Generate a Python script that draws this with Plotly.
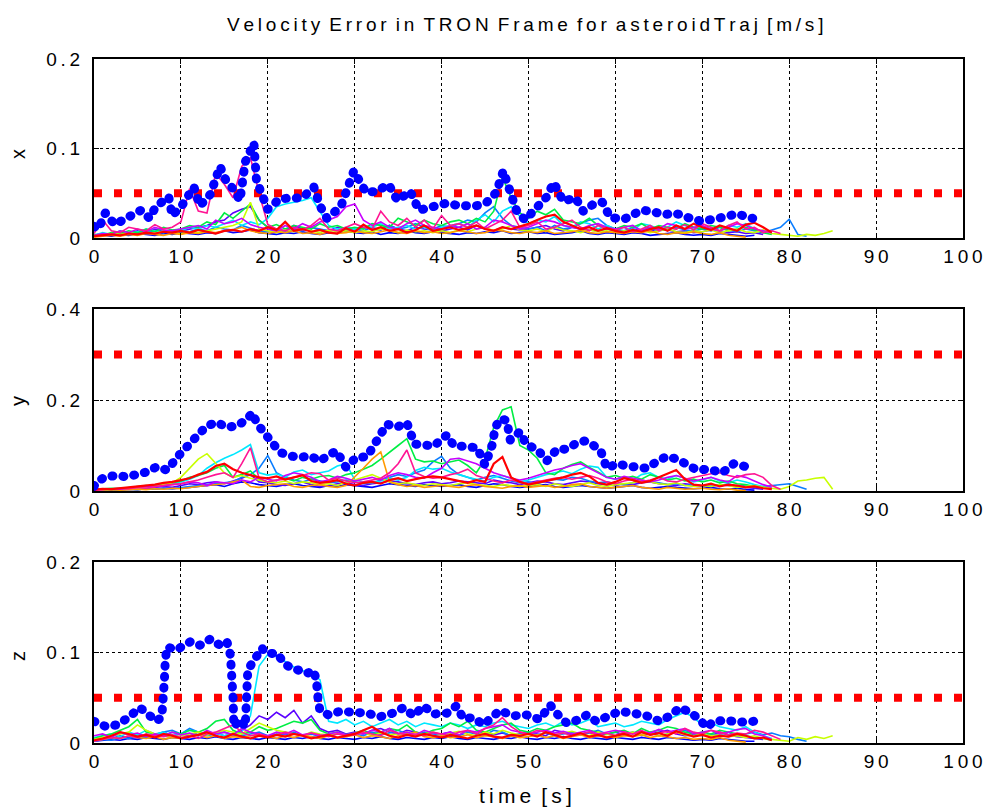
import plotly.graph_objects as go

W, H = 983, 809
FONT = "Liberation Sans, Arial, sans-serif"
THIN = "\u2009"

# ---------------- data (values in mm/s, converted to m/s) ----------------
TITLE = "Velocity Error in TRON Frame for asteroidTraj [m/s]"
XLABEL = "time [s]"
AX_NAMES = ["x", "y", "z"]
X_TICKS = [0, 10, 20, 30, 40, 50, 60, 70, 80, 90, 100]
Y_TICKS = [[0, 0.1, 0.2], [0, 0.2, 0.4], [0, 0.1, 0.2]]
Y_RANGES = [[0, 0.2], [0, 0.4], [0, 0.2]]
THRESH = [0.05, 0.3, 0.05]
SAMPLE_T = list(range(0, 90))

# max-error envelope (thick blue dotted)
bx_t = [0,0.5,1.3,2.4,3.7,5.4,6.4,7.1,8.6,9.0,10.1,11.5,12.2,13.4,14.5,15.2,16,16.8,17.4,18.4,
        18.7,19.5,20,21.4,23,24,25.3,26,26.8,28.4,29.9,30.7,31.3,32.5,33.9,34.9,36.4,37.4,39.4,40.6,
        42,44,45.2,46.3,47.1,47.9,48.6,49.6,51,52.1,52.9,54,55.4,56.3,57.5,58.5,59.4,61,63,64.1,
        65.6,66.8,68.3,69.8,71.4,72.9,74,75,75.8]
bx_v = [13,10,28,15,22,31,22,35,46,25,36,57,36,49,80,64,55,42,85,106,
        64,44,32,44,44,45,57,36,22,35,75,63,51,52,60,42,52,31,35,39,
        36,36,40,51,75,55,31,20,34,46,62,41,45,30,38,40,23,21,31,30,
        26,28,23,19,21,25,27,24,22]

by_t = [0,0.3,1.3,2.6,3.8,4.9,6.1,7.2,8.4,9.7,11,12.2,13,14.1,15.3,16.4,17.6,18.2,18.8,19.5,
        20.4,21.4,22.6,23.7,24.9,26,27.2,27.9,29,30.2,31.4,32.5,33.7,34.8,36,36.9,37.5,39.1,40.6,41.4,
        42.5,44.1,45,45.8,46.2,46.8,47.5,47.9,49,49.8,51,52.1,53.3,54.4,55.6,56.5,57.5,58.3,59,60.2,
        61.3,62.5,63.6,64.8,65.9,67.1,68.2,69.4,70.7,72.3,73.6,74.6,75.8]
by_v = [10,20,31,34,31,34,42,53,46,77,106,128,143,151,140,143,157,172,147,132,
        110,85,77,74,77,66,81,88,52,74,75,110,147,140,150,103,101,99,123,100,
        98,95,57,100,141,159,155,112,130,101,92,66,92,92,106,110,100,89,50,60,
        55,52,50,65,76,70,57,46,48,40,60,55,50]

bz_t = [0,1.4,2.6,3.8,5.3,6.4,7.2,7.8,8.0,8.1,8.2,8.4,9.5,11.1,12.2,13.4,14.5,15.3,15.7,15.9,
        16.0,16.1,16.8,17.4,17.5,17.6,17.7,18.4,19.3,19.9,21.1,21.8,22.6,23.7,24.5,25.3,25.6,25.8,26,27,
        28.3,29.8,31.4,32.9,34.4,35.6,36.8,37.9,39.1,40.6,41.7,42.5,43.7,44.8,45.6,46.7,48.2,49.8,51.3,52.5,
        53.2,54.4,55.9,56.7,57.8,59,60.5,62,63.6,65.1,66.3,67.4,68.6,69.7,70.5,71.3,72.8,74.3,75.5,76]
bz_v = [24,18,20,27,39,31,24,29,47,69,91,106,103,112,108,115,108,112,97,75,
        50,18,26,18,37,59,81,91,105,99,99,89,83,80,77,80,68,47,36,31,
        35,34,33,29,33,39,30,41,32,33,41,27,28,20,28,36,30,31,26,42,
        33,22,26,31,24,28,35,33,30,24,30,39,34,26,17,24,25,23,23,24]

# individual runs, sampled every 1 s from t = 0
x_blue = [2,3,2,4,3,5,4,3,5,4, 6,5,4,6,5,8,6,7,9,6, 5,4,6,5,7,5,4,6,5,8, 6,5,7,4,6,5,8,6,5,7,
          6,5,4,6,5,7,6,8,5,6, 7,5,6,4,5,6,8,5,4,6, 5,4,6,5,3,4,5,6,4,3, 4,3,5,4,3,2,3]
x_violet = [2,4,3,6,5,8,6,10,8,7, 8,10,12,14,18,20,28,32,35,20, 12,10,8,14,10,12,9,8,12,10,
            8,12,10,9,14,10,8,12,10,9, 8,10,12,9,14,10,8,12,10,9, 10,12,14,10,8,12,10,9,8,10,
            8,7,10,9,8,10,9,7,8,6, 7,9,8,6,7,5,6,4]
x_dodger = [3,5,4,6,5,7,6,8,7,6, 8,7,10,8,12,10,9,14,11,8, 7,9,6,10,8,12,10,8,9,11,
            10,8,12,9,14,10,12,16,12,10, 14,12,16,20,18,28,35,22,14,12, 10,12,8,14,10,12,16,20,22,14,
            10,8,12,9,11,8,10,12,9,8, 10,8,12,9,7,10,8,6,9,12, 21,4,2]
x_cyan = [3,6,4,8,5,7,10,8,6,9, 8,12,10,14,12,16,20,14,18,15, 22,35,38,40,42,45,30,14,10,12,
          10,14,12,16,10,12,14,10,12,8, 12,14,16,12,20,26,18,30,35,24, 16,20,18,24,14,12,18,16,10,14,
          10,12,8,16,14,10,12,18,14,10, 12,10,8,14,12,16,10,7,5]
x_green = [4,3,6,5,8,6,10,7,12,9, 10,14,12,18,15,28,22,30,38,20, 12,15,10,14,12,10,16,12,14,10,
           12,10,16,14,12,22,18,14,20,16, 14,18,20,16,22,18,30,68,45,28, 22,30,26,32,20,18,16,22,14,12,
           10,14,12,16,10,14,12,10,16,12, 10,14,12,8,10,12,9,6,4]
x_ygreen = [2,3,5,4,6,4,7,5,8,6, 5,7,6,8,10,12,14,18,40,10, 8,6,9,7,10,8,6,9,7,8,
            6,8,7,10,8,6,9,7,8,6, 8,6,9,7,10,12,8,10,14,9, 8,10,7,12,9,8,6,9,7,8,
            6,8,7,9,6,8,10,7,6,8, 7,9,6,8,10,7,6,9,5,4, 3,2,4,3,5,8]
x_orange = [1,2,3,2,4,3,5,4,3,5, 4,6,5,7,6,8,9,12,8,6, 5,7,6,8,5,6,4,7,5,6,
            8,6,5,7,9,6,5,8,6,7, 5,6,8,7,5,6,9,8,6,5, 7,6,8,5,6,7,9,6,5,7,
            6,5,7,6,8,5,4,6,5,7, 5,4,6,3,2,1]
x_magenta = [3,5,4,8,6,10,7,12,9,8, 10,12,14,10,20,16,18,22,15,12, 10,8,14,10,16,12,18,20,24,35,
             38,20,14,18,12,10,16,20,14,12, 10,14,12,16,10,12,20,18,14,10, 12,16,20,18,14,12,10,14,16,12,
             10,12,14,8,12,10,16,14,10,12, 14,10,8,12,16,14,10,8,6]
x_pink = [5,20,8,6,12,10,8,15,10,12, 18,55,30,28,72,60,45,80,90,50, 15,10,8,12,9,14,22,10,8,12,
          16,12,10,30,18,14,22,12,20,10, 25,14,16,12,18,10,15,20,30,12, 14,18,10,12,16,20,12,8,14,10,
          9,12,7,10,14,8,12,10,15,9, 16,12,8,14,18,10,12,6,8,5]
x_red = [2,3,4,3,5,4,6,5,7,6, 8,6,9,7,5,8,9,7,10,8, 12,9,18,8,10,7,9,6,5,11,
         7,15,9,12,8,10,6,9,14,8, 10,12,9,11,14,10,8,12,10,13, 16,20,24,26,18,14,10,12,8,11,
         8,6,9,7,10,12,8,14,10,16, 12,9,14,11,8,15,17,12,6]

y_blue = [1,2,2,3,4,3,5,4,6,5, 6,8,10,12,14,10,16,20,18,14, 12,10,14,16,12,10,8,12,10,14,
          12,10,8,12,16,14,12,10,14,12, 10,12,14,10,8,12,16,14,10,8, 10,12,14,10,8,10,12,10,8,6,
          8,10,12,8,6,8,10,8,6,5, 6,8,5,4,6,3,2]
y_violet = [2,3,4,3,5,4,6,8,10,8, 12,16,14,18,20,16,22,28,36,20, 18,14,12,16,20,14,10,12,16,18,
            14,12,16,18,22,20,16,14,18,20, 16,18,22,20,18,16,24,20,18,14, 18,22,20,16,14,18,22,20,16,14,
            12,16,14,18,20,16,14,12,16,14, 12,10,14,12,10,8,6,4]
y_dodger = [1,2,3,2,4,3,5,4,6,5, 8,10,12,14,16,18,20,30,36,50, 78,40,30,24,20,26,22,18,20,24,
            20,16,18,24,30,36,32,40,46,64, 76,50,36,30,24,30,34,28,22,18, 20,16,22,26,24,30,28,22,18,20,
            16,14,18,24,20,18,14,16,12,14, 10,14,12,16,10,12,8,10,12,14, 16,10,4]
y_cyan = [2,3,4,5,6,8,10,12,14,16, 20,26,34,50,62,72,80,90,102,40, 35,38,30,42,46,36,40,44,55,60,
          25,20,18,22,28,24,30,45,52,48, 50,42,36,30,26,22,30,34,28,20, 24,30,36,40,44,38,48,55,52,30,
          26,30,24,36,40,30,26,34,28,20, 24,30,22,18,24,20,14,10,6]
y_green = [3,4,6,5,8,10,12,10,14,18, 22,30,34,40,50,56,30,36,44,26, 20,24,28,22,30,26,32,34,28,36,
           40,48,56,70,84,100,115,70,64,66, 60,64,68,56,40,70,140,178,185,100, 90,72,40,36,50,58,64,52,42,30,
           34,28,32,26,36,30,24,28,22,26, 20,24,18,22,16,14,10,8,5]
y_ygreen = [2,3,4,5,4,6,8,10,14,18, 30,50,70,82,60,40,30,34,28,24, 20,18,22,16,20,18,14,16,12,20,
            24,30,36,28,20,16,18,14,12,16, 14,12,16,18,14,12,10,14,12,10, 12,14,10,16,12,10,14,18,12,10,
            14,16,18,24,20,16,14,18,12,10, 12,10,14,12,8,10,12,8,6,4, 10,22,24,28,30,4]
y_orange = [1,2,3,2,3,4,3,5,4,6, 5,8,10,12,14,16,20,24,10,8, 12,14,16,10,8,12,14,10,8,12,
            30,50,70,86,20,14,10,12,8,10, 12,10,8,12,14,10,8,6,10,12, 8,10,12,8,10,14,16,10,8,6,
            8,10,12,8,6,4,8,6,4,5, 6,4,3,5,2,1]
y_magenta = [2,3,5,4,6,8,10,9,12,14, 16,20,18,12,20,18,16,24,20,30, 26,22,34,40,36,30,20,24,32,28,
             22,26,30,24,34,40,36,30,28,40, 50,70,72,66,60,50,40,34,28,24, 28,34,40,46,50,56,60,50,40,30,
             26,32,28,24,20,24,30,34,28,22, 26,30,24,20,34,30,22,14,8]
y_pink = [2,3,4,6,5,8,6,10,12,14, 16,20,24,30,36,40,30,60,95,28, 20,24,26,30,34,40,38,24,28,22,
          18,20,24,28,40,60,90,40,32,28, 30,36,40,48,34,28,22,18,24,20, 16,20,24,28,30,26,30,34,28,20,
          16,22,26,20,24,30,22,20,26,30, 34,38,40,34,30,36,38,30,12,4]
y_red = [3,5,4,6,8,10,12,14,18,20, 24,28,36,42,55,60,48,40,35,30, 28,32,25,30,35,22,18,20,24,16,
         12,18,20,16,24,28,22,26,30,32, 30,26,22,18,24,20,60,75,30,20, 14,18,22,26,30,36,40,32,18,14,
         20,28,24,18,22,30,38,46,26,14, 12,16,10,14,12,8,10,6,4]

z_blue = [2,3,4,3,5,4,6,5,4,6, 5,4,6,5,7,5,4,6,5,4, 6,5,4,6,5,7,5,4,6,5,
          4,6,5,7,5,4,6,5,4,6, 5,7,5,4,6,5,4,6,5,7, 5,4,6,5,7,5,4,6,5,4,
          6,5,4,6,5,4,6,5,4,3, 4,3,5,4,3,2,2]
z_violet = [4,6,5,8,6,10,7,9,12,8, 10,8,12,9,11,8,10,14,20,30, 26,34,28,36,22,30,16,12,14,10,
            12,10,14,16,12,10,14,12,10,8, 10,12,8,14,10,12,9,11,8,10, 12,10,8,14,12,9,10,12,8,10,
            12,9,11,8,10,12,14,10,8,9, 10,8,12,9,7,6,5,4]
z_dodger = [2,4,3,6,5,8,6,9,12,14, 10,16,12,8,10,12,9,8,10,12, 8,10,9,12,8,10,7,9,11,8,
            10,8,12,9,11,14,10,8,12,10, 9,11,8,12,10,9,14,12,8,10, 12,9,11,8,10,12,9,11,14,10,
            8,10,12,9,11,8,10,12,14,10, 8,10,9,12,8,10,12,9,11,8, 7,4,2]
z_cyan = [6,8,10,7,12,9,14,10,12,8, 10,14,12,9,11,8,10,12,30,85, 98,96,90,84,80,76,70,24,22,26,
          20,24,18,22,26,20,24,18,22,20, 18,22,20,16,20,18,22,24,20,18, 16,20,22,18,24,20,22,26,18,20,
          22,18,20,24,22,20,26,30,34,28, 20,22,18,16,14,18,12,8,5]
z_green = [5,8,10,14,18,26,12,10,8,12, 10,14,12,16,24,26,14,10,12,18, 14,16,20,24,22,26,14,10,12,9,
           11,14,10,12,16,14,20,12,10,14, 16,22,18,24,14,12,16,20,22,14, 12,16,14,18,20,22,16,14,12,10,
           12,14,10,16,12,14,18,16,12,10, 12,10,14,12,10,8,6,5,3]
z_ygreen = [4,6,8,10,12,20,14,10,8,6, 8,10,12,9,11,14,12,10,16,22, 18,14,12,10,8,12,10,9,11,8,
            10,12,8,11,9,10,12,8,10,12, 9,11,13,10,8,12,10,14,11,9, 10,8,12,9,11,13,10,8,12,10,
            8,10,12,9,11,8,10,12,9,8, 10,8,9,7,8,6,8,5,4,3, 2,6,4,7,5,8]
z_orange = [3,4,6,5,8,6,5,7,4,6, 5,7,9,6,8,5,7,6,8,9, 7,5,8,6,9,7,5,8,6,7,
            9,6,8,7,5,8,10,12,7,6, 8,6,7,9,6,8,7,5,8,6, 7,9,6,8,5,7,9,6,8,7,
            6,8,7,9,6,8,7,5,6,4, 5,4,6,3,2,1]
z_magenta = [8,10,6,12,9,11,7,10,8,12, 9,11,8,14,10,12,9,16,12,10, 8,12,10,14,9,11,8,10,12,9,
             11,10,14,12,16,10,12,9,14,11, 10,12,9,14,12,16,18,20,14,12, 10,12,14,11,13,10,12,14,10,12,
             14,12,10,13,11,15,12,14,16,10, 12,14,10,12,15,16,10,8,4]
z_pink = [2,4,6,5,8,6,10,8,7,9, 6,8,5,10,12,16,20,12,8,10, 7,9,12,10,8,11,9,7,10,8,
          9,12,10,8,14,11,9,10,8,12, 10,8,12,14,10,16,20,28,18,12, 10,14,12,9,11,8,10,12,9,11,
          8,12,10,14,9,11,13,10,16,12, 10,14,12,9,11,10,14,12,8,4]
z_red = [3,5,8,12,10,7,9,6,10,8, 5,7,9,12,8,6,10,7,5,8, 6,9,7,10,8,5,7,9,6,8,
         10,14,18,12,8,6,9,7,10,8, 6,9,7,5,8,10,7,6,9,8, 10,7,12,9,6,8,11,7,9,6,
         8,10,7,12,9,11,8,13,10,7, 9,6,8,7,10,8,5,6,3]

RUN_COLORS = {
    "blue": "#0000ff", "violet": "#5a00ff", "dodger": "#0a7dff", "cyan": "#00e8ff",
    "green": "#00ee44", "ygreen": "#c8ff00", "orange": "#ff9a00", "magenta": "#c800ff",
    "pink": "#ff1493", "red": "#ff0000",
}
RUNS = [
    {"blue": x_blue, "violet": x_violet, "dodger": x_dodger, "cyan": x_cyan, "green": x_green,
     "ygreen": x_ygreen, "orange": x_orange, "magenta": x_magenta, "pink": x_pink, "red": x_red},
    {"blue": y_blue, "violet": y_violet, "dodger": y_dodger, "cyan": y_cyan, "green": y_green,
     "ygreen": y_ygreen, "orange": y_orange, "magenta": y_magenta, "pink": y_pink, "red": y_red},
    {"blue": z_blue, "violet": z_violet, "dodger": z_dodger, "cyan": z_cyan, "green": z_green,
     "ygreen": z_ygreen, "orange": z_orange, "magenta": z_magenta, "pink": z_pink, "red": z_red},
]
ENVELOPES = [(bx_t, bx_v), (by_t, by_v), (bz_t, bz_v)]

# ---------------- layout geometry ----------------
def px_x(p):
    return p / W

def px_y(p):
    return 1 - p / H

X_DOMAIN = [px_x(94), px_x(963)]
Y_DOMAINS = [[px_y(238), px_y(59)], [px_y(491), px_y(309)], [px_y(743), px_y(562)]]
LABEL_Y = [154, 401, 656]


def spaced(s, sep, gap):
    return gap.join(sep.join(list(w)) for w in s.split(" "))


def tick_txt(v):
    return THIN.join(("%g" % v))


fig = go.Figure()

for i in range(3):
    xa = "x" if i == 0 else f"x{i+1}"
    ya = "y" if i == 0 else f"y{i+1}"
    mm = 1000.0
    for name, vals in RUNS[i].items():
        fig.add_trace(go.Scatter(
            x=SAMPLE_T[:len(vals)], y=[v / mm for v in vals], mode="lines",
            line=dict(color=RUN_COLORS[name], width=2.2 if name == "red" else 1.6),
            xaxis=xa, yaxis=ya, showlegend=False, hoverinfo="skip"))
    fig.add_trace(go.Scatter(
        x=[X_TICKS[0], X_TICKS[-1]], y=[THRESH[i], THRESH[i]], mode="lines",
        line=dict(color="#ff0000", width=8, dash="8px,12px"),
        xaxis=xa, yaxis=ya, showlegend=False, hoverinfo="skip"))
    et, ev = ENVELOPES[i]
    fig.add_trace(go.Scatter(
        x=et, y=[v / mm for v in ev], mode="lines",
        line=dict(color="#0000ff", width=9, dash="1px,10px"),
        xaxis=xa, yaxis=ya, showlegend=False, hoverinfo="skip"))

    ax_common = dict(showline=True, linecolor="black", linewidth=2, mirror="ticks",
                     ticks="inside", ticklen=5, tickcolor="black", showgrid=True,
                     gridcolor="black", gridwidth=1, griddash="dot", zeroline=False,
                     ticklabeloverflow="allow", automargin=False,
                     tickfont=dict(family=FONT, size=19, color="black"))
    fig.layout[xa.replace("x", "xaxis")] = dict(
        domain=X_DOMAIN, range=[0, 100], anchor=ya, tickvals=X_TICKS,
        ticktext=[tick_txt(v) for v in X_TICKS], **ax_common)
    fig.layout[ya.replace("y", "yaxis")] = dict(
        domain=Y_DOMAINS[i], range=Y_RANGES[i], anchor=xa, tickvals=Y_TICKS[i],
        ticktext=[tick_txt(v) for v in Y_TICKS[i]], ticklabelstandoff=8, **ax_common)
    fig.add_annotation(x=px_x(18), y=px_y(LABEL_Y[i]), xref="paper", yref="paper",
                       xanchor="center", yanchor="middle",
                       text=AX_NAMES[i], showarrow=False, textangle=-90,
                       font=dict(family=FONT, size=20, color="black"))

fig.add_annotation(x=px_x(525), y=px_y(25), xref="paper", yref="paper",
                   xanchor="center", yanchor="middle",
                   text=spaced(TITLE, THIN, " " + THIN),
                   showarrow=False, font=dict(family=FONT, size=19, color="black"))
fig.add_annotation(x=px_x(525), y=px_y(795), xref="paper", yref="paper",
                   xanchor="center", yanchor="middle", text=spaced(XLABEL, THIN, " " + THIN),
                   showarrow=False, font=dict(family=FONT, size=21, color="black"))

fig.update_layout(template="none", width=W, height=H, margin=dict(l=0, r=0, t=0, b=0, autoexpand=False),
                  paper_bgcolor="white", plot_bgcolor="white", showlegend=False)

ROUND_DOTS_JS = (
    "var s=document.createElement('style');"
    "s.textContent='path.js-line[style*=\"stroke-width: 9px\"]{stroke-linecap:round;stroke-linejoin:round;}';"
    "document.head.appendChild(s);"
)
fig.write_html("out.html", post_script=ROUND_DOTS_JS)
